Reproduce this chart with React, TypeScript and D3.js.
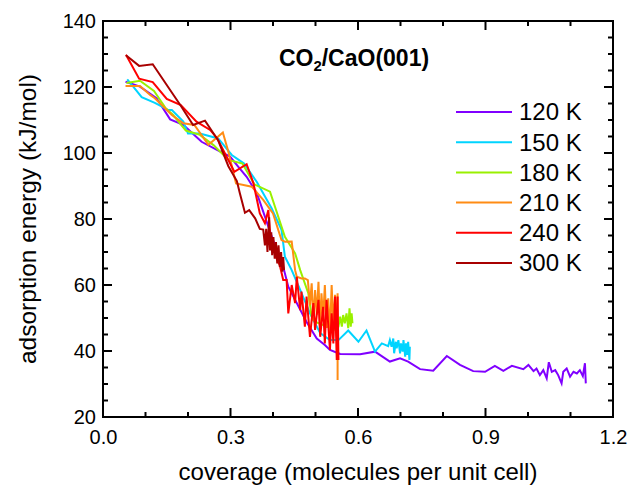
import { useRef, useEffect } from 'react';
import * as d3 from 'd3';

type Pt = [number, number];

const WIDTH = 628;
const HEIGHT = 486;
const MARGIN = { top: 21, right: 15, bottom: 69, left: 103 };

const temperatures = ['120 K', '150 K', '180 K', '210 K', '240 K', '300 K'];
const colors = ['#8000ff', '#00d4ff', '#99f000', '#ff8c14', '#ff0000', '#a80000'];

const xMajorTicks = [0.0, 0.3, 0.6, 0.9, 1.2];
const yMajorTicks = [20, 40, 60, 80, 100, 120, 140];

// coverage, adsorption energy (kJ/mol)
const series120: Pt[] = [
  [0.053, 121.6], [0.087, 120.1], [0.126, 116.6], [0.158, 110.2], [0.189, 108.5],
  [0.232, 103.4], [0.267, 101.0], [0.299, 98.9], [0.318, 95.9], [0.338, 92.8],
  [0.362, 87.8], [0.381, 80.7], [0.4, 73.6], [0.424, 65.5], [0.436, 59.5],
  [0.479, 48.8], [0.503, 43.8], [0.522, 41.8], [0.534, 40.3], [0.558, 39.1],
  [0.605, 39.0], [0.64, 39.8], [0.675, 36.8], [0.699, 37.8], [0.718, 36.8],
  [0.746, 34.5], [0.777, 34.0], [0.809, 38.5], [0.84, 35.8], [0.871, 33.9],
  [0.899, 33.7], [0.922, 35.5], [0.942, 34.0], [0.962, 35.5], [0.989, 34.5],
  [1.001, 35.8], [1.013, 33.9], [1.02, 34.7], [1.028, 32.7], [1.036, 34.2],
  [1.044, 31.7], [1.049, 36.6], [1.056, 33.7], [1.064, 34.2], [1.071, 32.7],
  [1.079, 30.2], [1.083, 33.7], [1.091, 34.7], [1.099, 32.2], [1.107, 33.7],
  [1.115, 33.2], [1.122, 34.2], [1.129, 32.4], [1.134, 36.3], [1.136, 30.2],
];

const series150: Pt[] = [
  [0.057, 122.3], [0.065, 121.1], [0.091, 116.9], [0.122, 115.2], [0.154, 113.0],
  [0.162, 113.0], [0.189, 109.5], [0.2, 105.9], [0.228, 105.9], [0.271, 104.4],
  [0.303, 99.4], [0.332, 96.8], [0.362, 91.2], [0.397, 83.2], [0.42, 76.7],
  [0.428, 68.6], [0.444, 64.5], [0.464, 58.5], [0.487, 51.4], [0.511, 45.4],
  [0.534, 43.3], [0.554, 43.3], [0.577, 46.2], [0.601, 42.8], [0.62, 46.2],
  [0.64, 39.8], [0.656, 42.3], [0.671, 41.5], [0.675, 43.3], [0.679, 41.3],
  [0.683, 43.8], [0.685, 39.3], [0.689, 42.8], [0.691, 40.8], [0.695, 43.3],
  [0.699, 39.3], [0.701, 42.3], [0.705, 39.8], [0.707, 43.3], [0.711, 38.3],
  [0.713, 42.3], [0.716, 38.8], [0.718, 42.8], [0.721, 37.3], [0.722, 41.3],
];

const series180: Pt[] = [
  [0.055, 121.2], [0.087, 121.9], [0.12, 118.8], [0.148, 113.5], [0.165, 111.5],
  [0.195, 106.8], [0.228, 105.5], [0.26, 102.4], [0.295, 97.9], [0.328, 96.8],
  [0.356, 90.5], [0.393, 88.3], [0.428, 74.6], [0.452, 69.6], [0.464, 64.5],
  [0.483, 57.5], [0.491, 50.4], [0.499, 48.9], [0.525, 47.5], [0.545, 46.5],
  [0.554, 47.4], [0.558, 50.4], [0.562, 47.4], [0.565, 50.9], [0.569, 48.4],
  [0.573, 51.4], [0.577, 46.9], [0.58, 52.9], [0.583, 47.4], [0.585, 51.4],
  [0.587, 48.4],
];

const series210: Pt[] = [
  [0.053, 120.3], [0.087, 120.3], [0.111, 117.6], [0.122, 116.6], [0.162, 111.5],
  [0.189, 109.0], [0.215, 108.5], [0.248, 102.5], [0.282, 106.2], [0.295, 100.4],
  [0.313, 90.8], [0.35, 89.8], [0.377, 85.8], [0.4, 81.7], [0.42, 73.6],
  [0.428, 73.1], [0.444, 73.2], [0.452, 64.5], [0.456, 62.5], [0.467, 62.0],
  [0.475, 62.0], [0.482, 61.5], [0.487, 54.0], [0.491, 60.5], [0.495, 49.0],
  [0.499, 58.5], [0.503, 51.0], [0.507, 61.0], [0.511, 46.0], [0.514, 57.5],
  [0.518, 50.0], [0.522, 60.0], [0.526, 47.0], [0.53, 56.0], [0.534, 45.0],
  [0.538, 60.0], [0.542, 48.0], [0.546, 57.0], [0.55, 44.0], [0.552, 57.5],
  [0.552, 31.2],
];

const series240: Pt[] = [
  [0.054, 129.8], [0.085, 122.5], [0.117, 121.5], [0.15, 116.4], [0.183, 114.5],
  [0.22, 109.5], [0.252, 107.0], [0.269, 104.4], [0.309, 94.3], [0.338, 96.6],
  [0.354, 90.8], [0.369, 81.7], [0.381, 78.7], [0.389, 82.7], [0.393, 75.7],
  [0.4, 72.0], [0.408, 68.1], [0.416, 66.0], [0.424, 61.5], [0.432, 61.5],
  [0.436, 51.4], [0.444, 60.0], [0.452, 54.5], [0.456, 62.5], [0.464, 52.4],
  [0.467, 58.0], [0.475, 47.4], [0.479, 56.5], [0.487, 44.3], [0.495, 54.5],
  [0.499, 46.4], [0.507, 55.5], [0.511, 44.3], [0.518, 53.4], [0.522, 42.3],
  [0.526, 55.5], [0.534, 40.3], [0.538, 51.4], [0.542, 42.3], [0.546, 56.5],
  [0.55, 37.3], [0.552, 56.5], [0.554, 37.3],
];

const series300: Pt[] = [
  [0.054, 129.6], [0.085, 126.4], [0.117, 126.9], [0.183, 114.3], [0.212, 108.5],
  [0.24, 109.8], [0.271, 103.8], [0.295, 96.0], [0.315, 91.5], [0.322, 87.8],
  [0.334, 81.9], [0.344, 82.7], [0.358, 80.2], [0.369, 77.0], [0.377, 76.8],
  [0.381, 72.0], [0.384, 77.0], [0.387, 70.0], [0.391, 80.5], [0.393, 70.5],
  [0.396, 76.0], [0.398, 69.0], [0.401, 74.5], [0.404, 68.0], [0.407, 73.0],
  [0.41, 66.5], [0.413, 72.0], [0.416, 65.5], [0.419, 70.0], [0.422, 64.0],
  [0.424, 68.5], [0.426, 64.5],
];

const allSeries = [series120, series150, series180, series210, series240, series300];

export default function App() {
  const svgRef = useRef<SVGSVGElement>(null);

  useEffect(() => {
    if (!svgRef.current) return;
    const svg = d3.select(svgRef.current);
    svg.selectAll('*').remove();

    const iW = WIDTH - MARGIN.left - MARGIN.right;
    const iH = HEIGHT - MARGIN.top - MARGIN.bottom;
    const g = svg.append('g').attr('transform', `translate(${MARGIN.left},${MARGIN.top})`);
    const font = "'Liberation Sans', Arial, sans-serif";

    const x = d3.scaleLinear().domain([0, 1.2]).range([0, iW]);
    const y = d3.scaleLinear().domain([20, 140]).range([iH, 0]);

    // Lines
    const line = d3.line<Pt>().x((d) => x(d[0])).y((d) => y(d[1]));
    allSeries.forEach((s, i) => {
      g.append('path')
        .datum(s)
        .attr('fill', 'none')
        .attr('stroke', colors[i])
        .attr('stroke-width', 2)
        .attr('stroke-linejoin', 'miter')
        .attr('d', line);
    });

    // Minor + major ticks, inward on all four sides
    const xMinor = d3.range(0, 13).map((i) => i / 10);
    const yMinor = d3.range(20, 141, 5);
    const tickG = g.append('g').attr('stroke', '#000').attr('stroke-width', 2);
    xMinor.forEach((v) => {
      const len = xMajorTicks.some((m) => Math.abs(m - v) < 1e-6) ? 9 : 5;
      tickG.append('line').attr('x1', x(v)).attr('x2', x(v)).attr('y1', iH).attr('y2', iH - len);
      tickG.append('line').attr('x1', x(v)).attr('x2', x(v)).attr('y1', 0).attr('y2', len);
    });
    yMinor.forEach((v) => {
      const len = yMajorTicks.includes(v) ? 9 : 5;
      tickG.append('line').attr('x1', 0).attr('x2', len).attr('y1', y(v)).attr('y2', y(v));
      tickG.append('line').attr('x1', iW).attr('x2', iW - len).attr('y1', y(v)).attr('y2', y(v));
    });

    // Frame
    g.append('rect')
      .attr('width', iW).attr('height', iH)
      .attr('fill', 'none').attr('stroke', '#000').attr('stroke-width', 2);

    // Tick labels
    const xAxis = g.append('g')
      .attr('transform', `translate(0,${iH})`)
      .call(d3.axisBottom(x).tickValues(xMajorTicks).tickSize(0).tickPadding(13).tickFormat(d3.format('.1f')));
    xAxis.select('.domain').remove();
    xAxis.selectAll('text').attr('font-size', '20px').attr('font-family', font).attr('fill', '#000');

    const yAxis = g.append('g')
      .call(d3.axisLeft(y).tickValues(yMajorTicks).tickSize(0).tickPadding(7).tickFormat(d3.format('d')));
    yAxis.select('.domain').remove();
    yAxis.selectAll('text').attr('font-size', '20px').attr('font-family', font).attr('fill', '#000');

    // Axis titles
    svg.append('text')
      .attr('x', MARGIN.left + iW / 2).attr('y', 480)
      .attr('text-anchor', 'middle')
      .attr('font-size', '24px').attr('font-family', font)
      .text('coverage (molecules per unit cell)');

    svg.append('text')
      .attr('transform', `translate(36,${MARGIN.top + iH / 2}) rotate(-90)`)
      .attr('text-anchor', 'middle')
      .attr('font-size', '24.5px').attr('font-family', font)
      .text('adsorption energy (kJ/mol)');

    // Title
    const title = svg.append('text')
      .attr('x', 354).attr('y', 66)
      .attr('text-anchor', 'middle')
      .attr('font-size', '23px').attr('font-weight', 'bold').attr('font-family', font);
    title.append('tspan').text('CO');
    title.append('tspan').attr('font-size', '15px').attr('dy', 5).text('2');
    title.append('tspan').attr('dy', -5).text('/CaO(001)');

    // Legend
    const leg = svg.append('g').attr('transform', 'translate(456,112)');
    temperatures.forEach((t, i) => {
      const row = leg.append('g').attr('transform', `translate(0,${i * 30.2})`);
      row.append('line').attr('x1', 0).attr('x2', 56).attr('stroke', colors[i]).attr('stroke-width', 2);
      row.append('text')
        .attr('x', 63).attr('dy', '0.35em')
        .attr('font-size', '24px').attr('font-family', font)
        .text(t);
    });
  }, []);

  return (
    <svg
      ref={svgRef}
      width={WIDTH}
      height={HEIGHT}
      style={{ position: 'absolute', left: 0, top: 0, background: '#fff' }}
    />
  );
}
